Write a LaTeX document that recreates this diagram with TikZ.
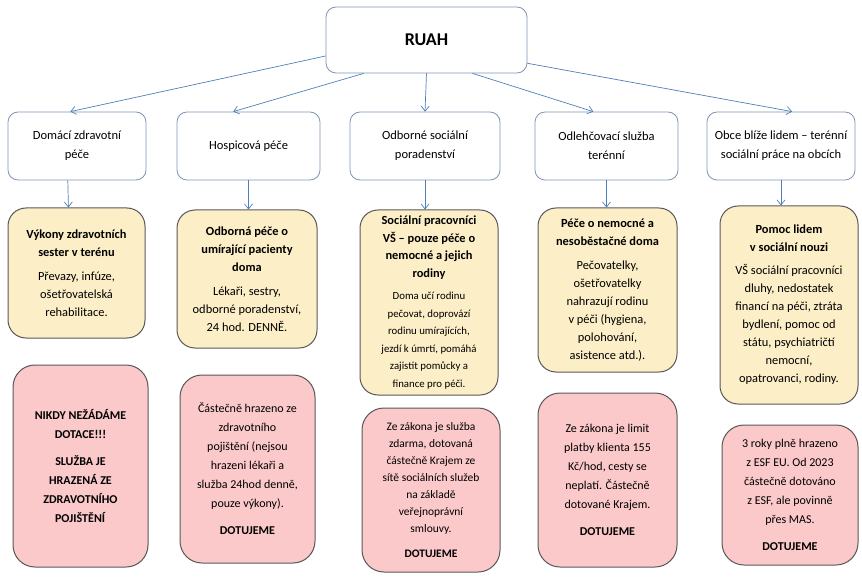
\documentclass[tikz,border=0pt]{standalone}
\usepackage{fontspec}
\setmainfont{Carlito}
\usetikzlibrary{arrows.meta,positioning}

\definecolor{linkblue}{HTML}{4F7FBA}
\definecolor{serviceedge}{HTML}{8294B4}
\definecolor{careyellow}{HTML}{FCEEC6}
\definecolor{fundpink}{HTML}{FBC9C9}
\definecolor{darkedge}{HTML}{585858}

\newcommand{\smallbody}{\fontsize{10.8}{17}\selectfont}

\tikzset{
  service/.style={draw=serviceedge, line width=0.8pt, rounded corners=10pt, fill=white,
    align=center, font=\fontsize{12.5}{19}\selectfont},
  care/.style={draw=darkedge, line width=1pt, rounded corners=18pt, fill=careyellow,
    align=center, font=\fontsize{12.4}{18}\selectfont},
  funding/.style={draw=darkedge, line width=1pt, rounded corners=22pt, fill=fundpink,
    align=center, font=\fontsize{12}{19}\selectfont},
  link/.style={->, draw=linkblue, line width=0.7pt}
}

\begin{document}
\begin{tikzpicture}[x=1pt, y=-1pt, >={Straight Barb[length=5pt,width=8pt]}]
    \useasboundingbox (0,0) rectangle (862,580);

    \node[service, minimum width=201pt, minimum height=66pt, font=\fontsize{18}{22}\selectfont\bfseries] (top) at (426.5,40) {RUAH};

    % services
    \node[service, minimum width=138pt, minimum height=68pt] (s_1) at (77,146) {Domácí zdravotní\\péče};
    \node[service, minimum width=143pt, minimum height=68pt] (s_2) at (248.5,146) {Hospicová péče};
    \node[service, minimum width=150pt, minimum height=68pt] (s_3) at (425,146) {Odborné sociální\\poradenství};
    \node[service, minimum width=143pt, minimum height=68pt] (s_4) at (606.5,146) {Odlehčovací služba\\terénní};
    \node[service, minimum width=148pt, minimum height=68pt] (s_5) at (781,146) {Obce blíže lidem – terénní\\sociální práce na obcích};

    % what the service does
    \node[care, minimum width=137pt, minimum height=130pt] (c_1) at (76.5,273)
      {\textbf{Výkony zdravotních}\\\textbf{sester v terénu}\\[6pt]Převazy, infúze,\\ošetřovatelská\\rehabilitace.};
    \node[care, minimum width=140pt, minimum height=138pt] (c_2) at (247,279)
      {\textbf{Odborná péče o}\\\textbf{umírající pacienty}\\\textbf{doma}\\[6pt]Lékaři, sestry,\\odborné poradenství,\\24 hod. DENNĚ.};
    \node[care, minimum width=138pt, minimum height=185pt, font=\fontsize{12.4}{17.5}\selectfont] (c_3) at (429,302.5)
      {\textbf{Sociální pracovníci}\\\textbf{VŠ – pouze péče o}\\\textbf{nemocné a jejich}\\\textbf{rodiny}\\[5pt]\smallbody Doma učí rodinu\\\smallbody pečovat, doprovází\\\smallbody rodinu umírajících,\\\smallbody jezdí k úmrtí, pomáhá\\\smallbody zajistit pomůcky a\\\smallbody finance pro péči.};
    \node[care, minimum width=139pt, minimum height=164pt] (c_4) at (607.5,290)
      {\textbf{Péče o nemocné a}\\\textbf{nesoběstačné doma}\\[6pt]Pečovatelky,\\ošetřovatelky\\nahrazují rodinu\\v péči (hygiena,\\polohování,\\asistence atd.).};
    \node[care, minimum width=138pt, minimum height=198pt] (c_5) at (789,305)
      {\textbf{Pomoc lidem}\\\textbf{v sociální nouzi}\\[5pt]VŠ sociální pracovníci\\dluhy, nedostatek\\financí na péči, ztráta\\bydlení, pomoc od\\státu, psychiatričtí\\nemocní,\\opatrovanci, rodiny.};

    % funding
    \node[funding, minimum width=135pt, minimum height=202pt] (f_1) at (80.5,466)
      {\textbf{NIKDY NEŽÁDÁME}\\\textbf{DOTACE!!!}\\[8pt]\textbf{SLUŽBA JE}\\\textbf{HRAZENÁ ZE}\\\textbf{ZDRAVOTNÍHO}\\\textbf{POJIŠTĚNÍ}};
    \node[funding, minimum width=135pt, minimum height=188pt] (f_2) at (247.5,469)
      {Částečně hrazeno ze\\zdravotního\\pojištění (nejsou\\hrazeni lékaři a\\služba 24hod denně,\\pouze výkony).\\[8pt]\textbf{DOTUJEME}};
    \node[funding, minimum width=138pt, minimum height=164pt, font=\fontsize{11.5}{17}\selectfont] (f_3) at (431,490)
      {Ze zákona je služba\\zdarma, dotovaná\\částečně Krajem ze\\sítě sociálních služeb\\na základě\\veřejnoprávní\\smlouvy.\\[8pt]\textbf{DOTUJEME}};
    \node[funding, minimum width=139pt, minimum height=174pt] (f_4) at (607.5,480)
      {Ze zákona je limit\\platby klienta 155\\Kč/hod, cesty se\\neplatí. Částečně\\dotované Krajem.\\[8pt]\textbf{DOTUJEME}};
    \node[funding, minimum width=136pt, minimum height=140pt] (f_5) at (790,495)
      {3 roky plně hrazeno\\z ESF EU. Od 2023\\částečně dotováno\\z ESF, ale povinně\\přes MAS.\\[8pt]\textbf{DOTUJEME}};

    \draw[link] (top.189.6) -- (s_1.101.6);
    \draw[link] (top.208) -- (s_2.114.5);
    \draw[link] (top.south) -- (s_3.north);
    \draw[link] (top.324) -- (s_4.111.7);
    \draw[link] (top.347) -- (s_5.72.1);

    \draw[link] (s_1.255) -- (c_1.97.5);
    \draw[link] (s_2.south) -- (s_2.south |- c_2.north);
    \draw[link] (s_3.south) -- (s_3.south |- c_3.north);
    \draw[link] (s_4.south) -- (s_4.south |- c_4.north);
    \draw[link] (s_5.south) -- (s_5.south |- c_5.north);
\end{tikzpicture}
\end{document}
